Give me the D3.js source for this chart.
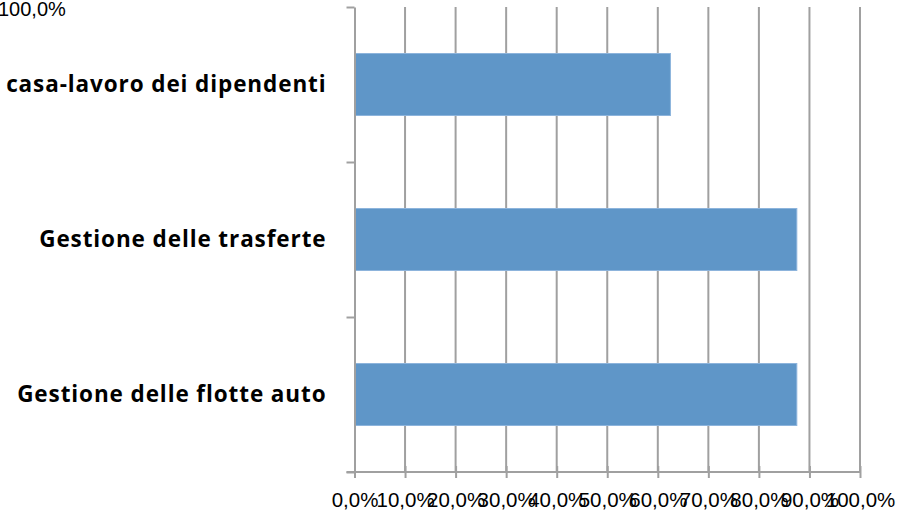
<!DOCTYPE html>
<html>
<head>
<meta charset="utf-8">
<script src="https://d3js.org/d3.v7.min.js"></script>
<style>
  body { margin: 0; background: #fff; }
  svg { display: block; }
  .cat { font-family: 'Open Sans', 'Noto Sans', sans-serif; font-weight: 700; font-size: 22.5px; letter-spacing: 0.9px; fill: #000; }
  .tick text { font-family: 'Liberation Sans', Arial, sans-serif; font-size: 20.5px; fill: #000; }
  .grid line { stroke: #a0a0a0; stroke-width: 2px; }
  .axis path, .axis line { stroke: #a0a0a0; stroke-width: 2px; }
</style>
</head>
<body>
<script>
// categories from top to bottom
var categories = ["casa-lavoro dei dipendenti", "Gestione delle trasferte", "Gestione delle flotte auto"];
var values = [62.5, 87.5, 87.5];
var tickValues = [0, 10, 20, 30, 40, 50, 60, 70, 80, 90, 100];
var strayLabel = "100,0%";

var W = 907, H = 519;
var margin = {top: 7, right: 47, bottom: 47, left: 354.5};
var width = W - margin.left - margin.right;
var height = H - margin.top - margin.bottom;

var svg = d3.select("body").append("svg")
  .attr("width", W)
  .attr("height", H);

var g = svg.append("g")
  .attr("transform", "translate(" + margin.left + "," + margin.top + ")");

var x = d3.scaleLinear().domain([0, 100]).range([0, width]);
var y = d3.scaleBand().domain(categories).range([0, height]).paddingInner(0.6).paddingOuter(0.3);
var yEdges = d3.scaleLinear().domain([0, categories.length]).range([0, height]);

var fmt = function(d) { return d.toFixed(1).replace(".", ",") + "%"; };

// vertical gridlines
g.append("g").attr("class", "grid")
  .selectAll("line")
  .data(tickValues.slice(1))
  .enter().append("line")
  .attr("x1", function(d) { return x(d); })
  .attr("x2", function(d) { return x(d); })
  .attr("y1", 0)
  .attr("y2", height);

// bars
g.selectAll(".bar")
  .data(values)
  .enter().append("rect")
  .attr("class", "bar")
  .attr("x", x(0))
  .attr("y", function(d, i) { return y(categories[i]); })
  .attr("width", function(d) { return x(d) - x(0); })
  .attr("height", y.bandwidth())
  .style("fill", "#5f96c8")
  .style("stroke", "#8db4dc")
  .style("stroke-width", 1);

// x axis
var xAxis = g.append("g").attr("class", "axis")
  .attr("transform", "translate(0," + height + ")")
  .call(d3.axisBottom(x).tickValues(tickValues).tickFormat(fmt).tickSize(6).tickSizeOuter(0).tickPadding(14));
xAxis.select(".domain").attr("d", "M-8,0H" + width);
xAxis.selectAll(".tick line").attr("y1", -6);

// y axis (category edges)
g.append("g").attr("class", "axis")
  .call(d3.axisLeft(yEdges).ticks(3).tickFormat("").tickSize(8).tickSizeOuter(0));

// category labels
g.selectAll(".cat")
  .data(categories)
  .enter().append("text")
  .attr("class", "cat")
  .attr("x", -28)
  .attr("y", function(d) { return y(d) + y.bandwidth() / 2; })
  .attr("dy", "0.35em")
  .attr("text-anchor", "end")
  .text(function(d) { return d; });

// stray label at top-left
svg.append("text")
  .attr("x", -2)
  .attr("y", 16)
  .style("font-family", "'Liberation Sans', Arial, sans-serif")
  .style("font-size", "20px")
  .text(strayLabel);
</script>
</body>
</html>
